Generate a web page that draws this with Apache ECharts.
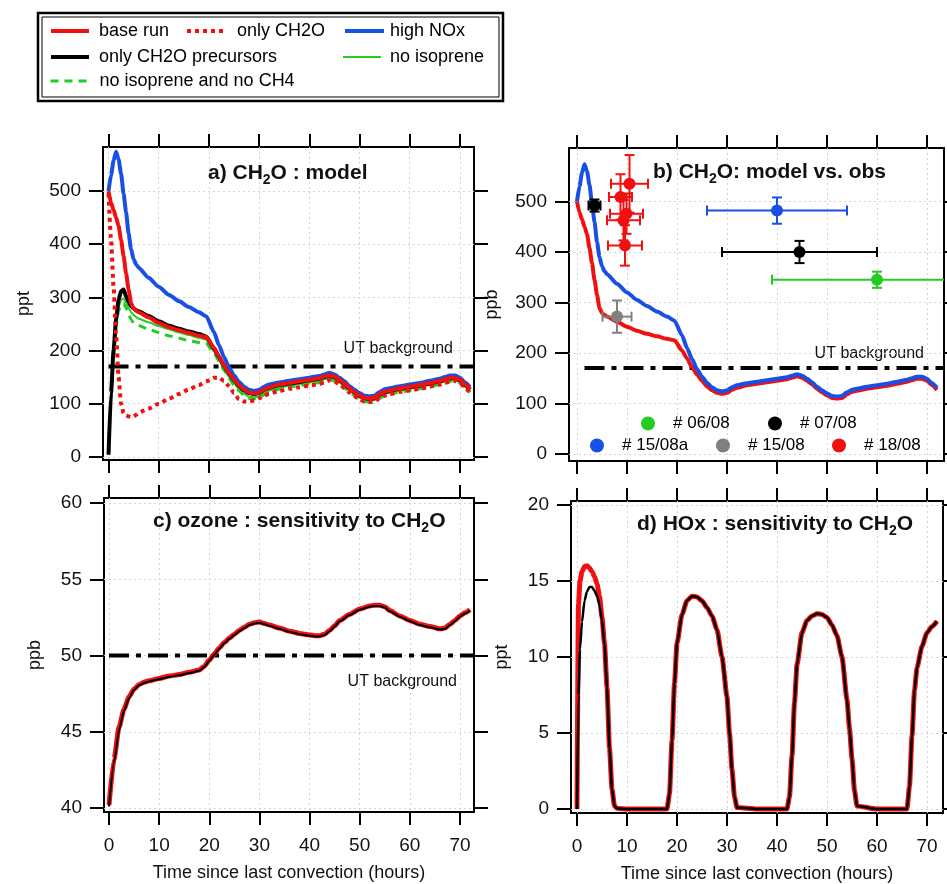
<!DOCTYPE html>
<html>
<head>
<meta charset="utf-8">
<script src="https://cdn.jsdelivr.net/npm/echarts@6/dist/echarts.min.js"></script>
<style>
html, body { margin: 0; padding: 0; background: #fff; }
#chart { width: 947px; height: 884px; }
</style>
</head>
<body>
<div id="chart"></div>
<script>
const FONT = 'Liberation Sans, Arial, Helvetica, sans-serif';

// ---- panels a) and b): CH2O model runs (hours since convection)
const hoursAB = [0,0.5,1,1.5,2,2.5,3,3.5,4,4.5,5,5.5,6,8,10,12,14,16,18,19.5,
  21,22,23,24,25,26,27,28,29,30,31,32,34,36,38,40,42,43,44,45,
  46,47,48,49,50,51,52,53,54,55,56,58,60,62,64,66,67,68,69,70,71,72];
const baseRun = [500,478,465,450,435,408,378,345,315,289,279,275,272,262,252,244,238,233,228,225,
  205,189,172,157,145,134,126,121,119,121,127,131,136,139,142,145,148,151,154,151,
  145,138,129,122,116,111,110,111,118,123,125,129,132,135,139,143,146,149,149,145,136,127];
const highNOx = [500,530,557,574,560,533,495,460,420,390,372,362,356,337,320,305,293,282,272,264,
  235,210,188,168,153,141,132,126,124,126,132,136,140,143,146,149,152,155,158,155,
  149,142,133,126,120,115,114,115,122,127,129,133,136,139,143,147,150,153,153,149,140,131];
const onlyPrecursors = [4,120,200,258,295,312,315,302,292,283,279,276,274,265,255,247,241,236,231,226,
  204,188,171,156,144,133,125,120,118,120,126,130,135,138,141,144,147,150,153,150,
  144,137,128,121,115,110,109,110,117,122,124,128,131,134,138,142,145,148,148,144,135,126];
const noIsoprene = [4,115,195,250,282,295,298,290,280,272,267,263,260,253,246,240,234,229,224,220,
  198,183,166,150,138,127,118,113,112,114,120,125,130,134,137,140,143,146,149,146,
  140,133,125,118,112,107,106,107,113,118,121,125,128,131,135,139,142,145,145,141,132,123];
const noIsopreneNoCH4 = [4,110,190,245,275,287,289,280,268,258,252,249,247,240,234,228,223,219,215,213,
  195,180,163,147,135,124,115,110,109,111,117,122,127,131,134,137,140,143,146,143,
  137,130,122,115,109,104,103,104,110,115,118,122,125,128,132,136,139,142,143,139,130,121];
const onlyCH2O = [495,410,320,230,150,100,82,78,76,75,76,79,83,91,100,109,118,127,135,142,
  149,149,143,133,120,108,104,104,106,110,115,119,124,128,131,134,137,140,144,142,
  136,129,121,114,108,104,103,104,110,115,118,122,125,128,132,136,139,142,143,139,130,121];
const utCH2O = 170;

// observations (panel b), one row per measurement
const obsFlight = ['# 06/08','# 07/08','# 07/08','# 15/08a','# 15/08','# 18/08','# 18/08','# 18/08','# 18/08','# 18/08'];
const obsHours = [60, 3.5, 44.5, 40, 8, 10.5, 8.7, 9.9, 9.3, 9.6];
const obsHoursErr = [21, 1.2, 15.5, 14, 2.9, 3.7, 2.3, 3.3, 3.3, 3.4];
const obsCH2O = [345, 492, 400, 482, 272, 535, 509, 476, 463, 413];
const obsCH2OErr = [16, 12, 22, 26, 32, 57, 45, 40, 40, 40];
const flightNames = ['# 06/08','# 07/08','# 15/08a','# 15/08','# 18/08'];
const flightColors = ['#22cc22','#000000','#1a4fe6','#808080','#f01010'];

// ---- panel c): ozone
const hoursC = [0,1,2,3,4,5,6,7,8,10,12,14,16,18,19,20,21,22,23,24,25,26,27,28,29,30,31,32,34,36,
  38,40,41,42,43,44,45,46,48,50,52,53,54,55,56,58,60,62,64,66,67,68,69,70,71,72];
const ozoneBase = [40.2,43.2,45.3,46.5,47.3,47.8,48.1,48.25,48.35,48.5,48.65,48.75,48.9,49.05,49.3,49.7,
  50.1,50.5,50.85,51.15,51.4,51.65,51.85,52.05,52.15,52.2,52.1,52.0,51.8,51.6,
  51.45,51.35,51.3,51.3,51.4,51.65,51.95,52.3,52.7,53.05,53.25,53.3,53.3,53.2,52.95,52.6,
  52.3,52.05,51.9,51.75,51.8,52.05,52.3,52.6,52.8,53.0];
const ozonePrecursors = [40.1,43.0,45.1,46.4,47.2,47.75,48.05,48.2,48.3,48.45,48.6,48.7,48.85,49.0,49.25,49.65,
  50.05,50.45,50.8,51.1,51.35,51.6,51.8,52.0,52.1,52.15,52.05,51.95,51.75,51.55,
  51.4,51.3,51.25,51.25,51.35,51.6,51.9,52.25,52.65,53.0,53.2,53.25,53.25,53.15,52.9,52.55,
  52.25,52.0,51.85,51.7,51.75,52.0,52.25,52.55,52.75,52.95];
const utOzone = 50;

// ---- panel d): HOx
const hoursD = [0,0.3,0.6,1,1.5,2,2.5,3,3.5,4,4.5,5,5.5,6,6.5,7,7.5,8,10,14,18,18.5,19,19.5,20,21,22,23,24,25,
  26,27,28,29,30,30.5,31,31.5,32,36,42,42.5,43,43.5,44,45,46,47,48,49,50,51,52,53,54,54.5,55,55.5,56,
  60,66,66.5,67,67.5,68,69,70,71,72];
const hoxBase = [0,13.5,15.0,15.6,15.95,16.0,15.85,15.6,15.3,14.8,14.0,12.6,10.9,8.0,4.0,1.3,0.2,0.05,0,0,0,1.0,4.5,8.3,10.9,12.8,13.7,14.0,13.95,13.7,
  13.25,12.7,11.8,10.0,7.4,5.0,2.6,0.8,0.1,0,0,0.8,3.5,7.0,9.5,11.6,12.4,12.7,12.85,12.8,12.6,12.1,11.4,10.0,7.2,5.3,3.3,1.2,0.2,
  0,0,1.5,4.8,7.8,9.3,10.7,11.6,12.0,12.35];
const hoxPrecursors = [0,7.5,10.5,12.3,13.7,14.3,14.6,14.6,14.35,14.0,13.4,12.4,10.8,8.0,4.0,1.3,0.2,0.05,0,0,0,1.0,4.5,8.3,10.9,12.8,13.7,14.0,13.95,13.7,
  13.25,12.7,11.8,10.0,7.4,5.0,2.6,0.8,0.1,0,0,0.8,3.5,7.0,9.5,11.6,12.4,12.7,12.85,12.8,12.6,12.1,11.4,10.0,7.2,5.3,3.3,1.2,0.2,
  0,0,1.5,4.8,7.8,9.3,10.7,11.6,12.0,12.35];

// ticks
const xTicks = [0,10,20,30,40,50,60,70];
const ch2oTicks = [0,100,200,300,400,500];
const ozoneTicks = [40,45,50,55,60];
const hoxTicks = [0,5,10,15,20];

const RED = '#f01010', BLUE = '#1a4fe6', GREEN = '#22cc22', BLACK = '#000000';

const panels = [
  {box: {left:103, top:147, width:371, height:313}, x:[-1.1,72.8], y:[-6,583], yTicks:ch2oTicks, yName:'ppt', yGap:70, xLabels:false, utFrom:0},
  {box: {left:569, top:148, width:375, height:313}, x:[-1.6,73.4], y:[-14,606], yTicks:ch2oTicks, yName:'ppb', yGap:68, xLabels:false, utFrom:1.5},
  {box: {left:104, top:498, width:370, height:314}, x:[-1.0,72.8], y:[39.74,60.33], yTicks:ozoneTicks, yName:'ppb', yGap:60, xLabels:true, utFrom:0},
  {box: {left:571, top:501, width:372, height:313}, x:[-1.2,73.2], y:[-0.26,20.26], yTicks:hoxTicks, yName:'ppt', yGap:60, xLabels:true, utFrom:0}
];

const tickLine = {color:'#000', width:2};
const gridLine = {show:true, lineStyle:{color:'#d4d4d4', type:[2,3], width:1}};
const grids = [], xAxes = [], yAxes = [];
panels.forEach((p, i) => {
  grids.push(Object.assign({show:true, borderColor:'#000', borderWidth:2, backgroundColor:'transparent'}, p.box));
  xAxes.push({
    type:'value', gridIndex:i, position:'bottom', min:p.x[0], max:p.x[1],
    axisLine:{show:false, onZero:false},
    axisTick:{show:true, inside:false, length:13, lineStyle:tickLine, customValues:xTicks},
    axisLabel:{show:p.xLabels, customValues:xTicks, margin:24, fontSize:19, color:'#111', fontFamily:FONT},
    splitLine:gridLine,
    name:p.xLabels ? 'Time since last convection (hours)' : '', nameLocation:'middle', nameGap:52,
    nameTextStyle:{fontSize:18, color:'#111', fontFamily:FONT}
  });
  xAxes.push({
    type:'value', gridIndex:i, position:'top', min:p.x[0], max:p.x[1],
    axisLine:{show:false, onZero:false},
    axisTick:{show:true, inside:false, length:13, lineStyle:tickLine, customValues:xTicks},
    axisLabel:{show:false, customValues:xTicks}, splitLine:{show:false}
  });
  yAxes.push({
    type:'value', gridIndex:i, position:'left', min:p.y[0], max:p.y[1],
    axisLine:{show:false, onZero:false},
    axisTick:{show:true, inside:false, length:14, lineStyle:tickLine, customValues:p.yTicks},
    axisLabel:{customValues:p.yTicks, margin:22, fontSize:19, color:'#111', fontFamily:FONT},
    splitLine:gridLine,
    name:p.yName, nameLocation:'middle', nameGap:p.yGap, nameRotate:90,
    nameTextStyle:{fontSize:18, color:'#111', fontFamily:FONT}
  });
  yAxes.push({
    type:'value', gridIndex:i, position:'right', min:p.y[0], max:p.y[1],
    axisLine:{show:false, onZero:false},
    axisTick:{show:true, inside:false, length:14, lineStyle:tickLine, customValues:p.yTicks},
    axisLabel:{show:false, customValues:p.yTicks}, splitLine:{show:false}
  });
});

function zip(xs, ys) { return xs.map((x, i) => [x, ys[i]]); }

function lineSeries(name, panel, xs, ys, color, width, type, z) {
  return {
    name: name, type: 'line', xAxisIndex: panel * 2, yAxisIndex: panel * 2,
    data: zip(xs, ys), symbol: 'none', showSymbol: false, smooth: 0.2, smoothMonotone: 'x',
    lineStyle: {color: color, width: width, type: type || 'solid'}, itemStyle: {color: color},
    z: z || 2, silent: true, animation: false
  };
}

function utSeries(panel, level) {
  const p = panels[panel];
  return {
    name: 'UT background', type: 'line', xAxisIndex: panel * 2, yAxisIndex: panel * 2,
    data: [[p.utFrom, level], [p.x[1], level]], symbol: 'none', silent: true, animation: false,
    lineStyle: {color: '#000', width: 4, type: [20, 7, 5, 7]}, z: 1
  };
}

function renderObs(params, api) {
  const t = api.value(0), c = api.value(1), te = api.value(2), ce = api.value(3);
  const color = api.visual('color');
  const cs = params.coordSys;
  const mid = api.coord([t, c]);
  const l = api.coord([t - te, c]), r = api.coord([t + te, c]);
  const top = api.coord([t, c + ce]), bot = api.coord([t, c - ce]);
  const xl = Math.max(l[0], cs.x), xr = Math.min(r[0], cs.x + cs.width);
  const st = {stroke: color, lineWidth: 2};
  const cap = 5;
  const kids = [
    {type: 'line', shape: {x1: xl, y1: mid[1], x2: xr, y2: mid[1]}, style: st},
    {type: 'line', shape: {x1: mid[0], y1: top[1], x2: mid[0], y2: bot[1]}, style: st},
    {type: 'line', shape: {x1: mid[0] - cap, y1: top[1], x2: mid[0] + cap, y2: top[1]}, style: st},
    {type: 'line', shape: {x1: mid[0] - cap, y1: bot[1], x2: mid[0] + cap, y2: bot[1]}, style: st},
    {type: 'circle', shape: {cx: mid[0], cy: mid[1], r: 6}, style: {fill: color}}
  ];
  if (l[0] >= cs.x) kids.push({type: 'line', shape: {x1: l[0], y1: mid[1] - cap, x2: l[0], y2: mid[1] + cap}, style: st});
  if (r[0] <= cs.x + cs.width) kids.push({type: 'line', shape: {x1: r[0], y1: mid[1] - cap, x2: r[0], y2: mid[1] + cap}, style: st});
  return {type: 'group', children: kids};
}

const obsSeries = flightNames.map((f, k) => {
  const rows = [];
  obsFlight.forEach((g, i) => {
    if (g === f) rows.push([obsHours[i], obsCH2O[i], obsHoursErr[i], obsCH2OErr[i]]);
  });
  return {
    name: f, type: 'custom', xAxisIndex: 2, yAxisIndex: 2, data: rows,
    encode: {x: 0, y: 1}, renderItem: renderObs, itemStyle: {color: flightColors[k]},
    z: 5, silent: true, animation: false
  };
});

const series = [
  utSeries(0, utCH2O),
  lineSeries('high NOx', 0, hoursAB, highNOx, BLUE, 4),
  lineSeries('no isoprene and no CH4', 0, hoursAB, noIsopreneNoCH4, GREEN, 3, [8, 6]),
  lineSeries('no isoprene', 0, hoursAB, noIsoprene, GREEN, 2),
  lineSeries('only CH2O precursors', 0, hoursAB, onlyPrecursors, BLACK, 4),
  lineSeries('only CH2O', 0, hoursAB, onlyCH2O, RED, 4, [4, 4]),
  lineSeries('base run', 0, hoursAB, baseRun, RED, 4),

  utSeries(1, utCH2O),
  lineSeries('base run', 1, hoursAB, baseRun, RED, 4),
  lineSeries('high NOx', 1, hoursAB, highNOx, BLUE, 4)
].concat(obsSeries, [
  utSeries(2, utOzone),
  lineSeries('ozone base run', 2, hoursC, ozoneBase, RED, 5),
  lineSeries('ozone only precursors', 2, hoursC, ozonePrecursors, BLACK, 2, 'solid', 3),
  lineSeries('HOx base run', 3, hoursD, hoxBase, RED, 5),
  lineSeries('HOx only precursors', 3, hoursD, hoxPrecursors, BLACK, 2.5, 'solid', 3)
]);

function lineLegend(name, left, top, w, lw, gap) {
  return {
    data: [name], left: left, top: top, itemWidth: w, itemHeight: 12, padding: 0,
    selectedMode: false, lineStyle: {width: lw}, itemStyle: {opacity: 0},
    textStyle: {fontFamily: FONT, fontSize: 18, color: '#000', padding: [0, 0, 0, gap]}
  };
}
function obsLegend(k, left, top) {
  return {
    data: [flightNames[k]], left: left, top: top, icon: 'circle', itemWidth: 14, itemHeight: 14,
    padding: 0, selectedMode: false,
    textStyle: {fontFamily: FONT, fontSize: 17, color: '#000', padding: [0, 0, 0, 13]}
  };
}

const legends = [
  lineLegend('base run', 49, 22, 38, 4, 5),
  lineLegend('only CH2O', 185, 22, 37, 4, 8),
  lineLegend('high NOx', 343, 22, 39, 4, 1),
  lineLegend('only CH2O precursors', 49, 48, 38, 4, 5),
  lineLegend('no isoprene', 342, 48, 38, 2, 4),
  lineLegend('no isoprene and no CH4', 49, 72, 39, 3, 5),
  obsLegend(0, 641, 415),
  obsLegend(1, 768, 415),
  obsLegend(2, 590, 437),
  obsLegend(3, 716, 437),
  obsLegend(4, 832, 437)
];

const titleRich = {
  b: {fontSize: 21, fontWeight: 'bold', lineHeight: 27, fontFamily: FONT, color: '#111'},
  s: {fontSize: 14, fontWeight: 'bold', lineHeight: 14, verticalAlign: 'bottom', fontFamily: FONT, color: '#111'}
};
function panelTitle(text, left, top) {
  return {text: text, left: left, top: top, padding: 0, textStyle: {rich: titleRich}};
}

const utText = (x, y) => ({
  type: 'text', x: x, y: y,
  style: {text: 'UT background', align: 'right', verticalAlign: 'middle', fontSize: 16, fontFamily: FONT, fill: '#111'}
});

const chart = echarts.init(document.getElementById('chart'));
chart.setOption({
  animation: false,
  backgroundColor: '#fff',
  title: [
    panelTitle('{b|a) CH}{s|2}{b|O : model}', 208, 160),
    panelTitle('{b|b) CH}{s|2}{b|O: model vs. obs}', 653, 159),
    panelTitle('{b|c) ozone : sensitivity to CH}{s|2}{b|O}', 153, 508),
    panelTitle('{b|d) HOx : sensitivity to CH}{s|2}{b|O}', 637, 511)
  ],
  legend: legends,
  grid: grids,
  xAxis: xAxes,
  yAxis: yAxes,
  series: series,
  graphic: [
    {type: 'rect', shape: {x: 38, y: 13, width: 465, height: 88}, style: {fill: 'none', stroke: '#000', lineWidth: 2.5}},
    {type: 'rect', shape: {x: 42, y: 17, width: 457, height: 80}, style: {fill: 'none', stroke: '#000', lineWidth: 1}},
    utText(453, 349),
    utText(924, 354),
    utText(457, 682)
  ]
});
</script>
</body>
</html>
